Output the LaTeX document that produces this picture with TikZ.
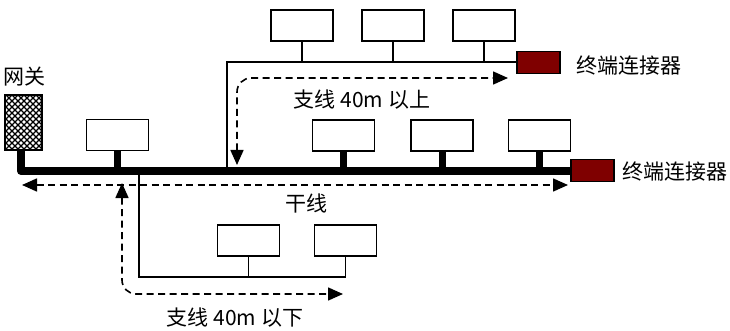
\documentclass[tikz,border=0pt]{standalone}
\usepackage{fontspec}
\setmainfont{Noto Sans CJK SC}
\usetikzlibrary{arrows.meta}
\definecolor{termred}{HTML}{7F0000}
\begin{document}
\begin{tikzpicture}[x=1pt,y=-1pt,
  devbox/.style={draw, line width=1.8pt, fill=white, minimum width=62pt, minimum height=31pt, inner sep=0pt},
  term/.style={draw, line width=1.8pt, fill=termred, minimum width=43pt, minimum height=22pt, inner sep=0pt},
  gw/.style={draw, line width=1.8pt, minimum width=37pt, minimum height=55pt, inner sep=0pt},
  trunkline/.style={line width=8pt, line join=round},
  thickstub/.style={line width=7pt},
  thinline/.style={line width=1.6pt},
  hatch/.style={line width=1.1pt},
  measure/.style={line width=1.6pt, dash pattern=on 7pt off 4.5pt, {Triangle[length=15pt,width=13pt]}-{Triangle[length=15pt,width=13pt]}},
  lbl/.style={font=\fontsize{21}{24}\selectfont, inner sep=0pt}
]
\useasboundingbox (0,0) rectangle (730,331);
% gateway
\node[gw] (gw) at (23.5,122.5) {};
\begin{scope}
  \clip (gw.south west) rectangle (gw.north east);
  \foreach \k in {-60,-54,...,60}{
    \draw[hatch] (\k,95) -- ++(60,60);
    \draw[hatch] (\k,155) -- ++(60,-60);
  }
\end{scope}
\node[gw] (gwb) at (23.5,122.5) {};
\node[lbl] (gwl) at (24,77) {网关};
% trunk boxes
\node[devbox] (t1) at (117.5,135) {};
\node[devbox] (t2) at (343.5,135.5) {};
\node[devbox] (t3) at (442,135.5) {};
\node[devbox] (t4) at (539.5,135.5) {};
% upper boxes
\node[devbox] (u1) at (302,25.5) {};
\node[devbox] (u2) at (393,25.5) {};
\node[devbox] (u3) at (484,25.5) {};
% lower boxes
\node[devbox] (l1) at (248.5,240.5) {};
\node[devbox] (l2) at (345.5,240.5) {};
% coordinates
\coordinate (gwc) at (21,171);
\coordinate (tend) at (571,171);
\coordinate (ub) at (227,171);
\coordinate (uc) at (227,62);
\coordinate (lb) at (139,171);
\coordinate (lc) at (139,277);
\coordinate (le) at (346,277);
% thin branches
\draw[thinline] (ub) -- (uc) -- (517,62);
\draw[thinline] (lb) -- (lc) -- (le);
\foreach \b in {u1,u2,u3}{\draw[thinline] (\b.south) -- (\b.south |- uc);}
\foreach \b in {l1,l2}{\draw[thinline] (\b.south) -- (\b.south |- lc);}
% trunk
\draw[trunkline] (gw.south -| gwc) -- (gwc) -- (tend);
\foreach \b in {t1,t2,t3,t4}{\draw[thickstub] (\b.south) -- (\b.south |- tend);}
% terminals
\node[term] (term1) at (538.5,62.5) {};
\node[term] (term2) at (592.5,170.5) {};
\node[lbl, anchor=west] (term1l) at (576,66) {终端连接器};
\node[lbl, anchor=west] (term2l) at (622,172) {终端连接器};
% measurement arrows
\coordinate (ma1) at (22,185);
\coordinate (ma2) at (568,185);
\draw[measure] (ma1) -- (ma2);
\node[lbl] (trl) at (306,203) {干线};
\coordinate (mu1) at (237,165);
\coordinate (mu2) at (237,78);
\coordinate (mu3) at (508,78);
\draw[measure, rounded corners=14pt] (mu1) -- (mu2) -- (mu3);
\node[lbl] (ul) at (362,100) {支线 40m 以上};
\coordinate (ml1) at (122,183);
\coordinate (ml2) at (122,294);
\coordinate (ml3) at (343,294);
\draw[measure, rounded corners=14pt] (ml1) -- (ml2) -- (ml3);
\node[lbl] (ll) at (235,318) {支线 40m 以下};
\end{tikzpicture}
\end{document}
